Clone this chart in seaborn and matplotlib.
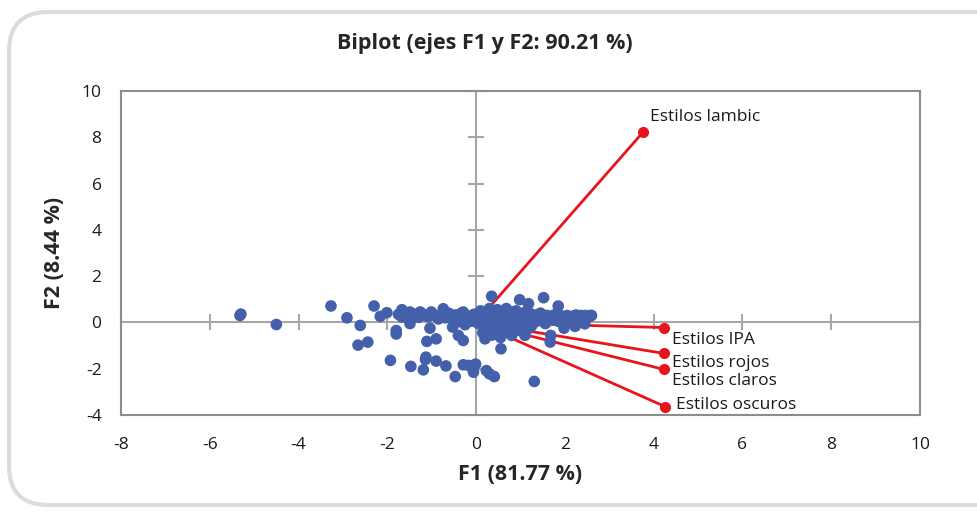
import numpy as np
import pandas as pd
import matplotlib
matplotlib.use("Agg")
import matplotlib.pyplot as plt
import seaborn as sns
from matplotlib.patches import FancyBboxPatch

obs_f1 = [-5.32, -5.30, -4.50, -3.27, -2.91, -2.61, -2.30, -2.66, -2.44, -2.16,
          -2.01, -1.93, -1.80, -1.80, -1.67, -1.67, -1.49, -1.49, -1.47, -1.26,
          -1.19, -1.13, -1.14, -1.11, -1.04, -1.01, -0.90, -0.90, -0.74, -0.68,
          -0.69, -0.53, -0.47, -0.40, -0.29, -0.29, -0.17, -0.06, -0.01, -0.06,
          -0.29, -0.14, 0.20, 0.23, 0.30, 0.41, 0.35, 0.56, 0.45, 0.80,
          0.98, 1.10, 1.18, 1.52, 1.85, 1.67, 1.68, 1.31, 2.23, 2.45,
          2.57, 1.98,
          -1.75, -1.62, -1.55, -1.45, -1.38, -1.30, -1.22, -1.15, -1.08, -0.98,
          -0.92, -0.85, -0.78, -0.70, -0.62, -0.55, -0.48, -0.40, -0.35, -0.28,
          -0.22, -0.15, -0.10, -0.05,
          0.00, 0.05, 0.08, 0.12, 0.15, 0.18, 0.20, 0.24, 0.27, 0.30,
          0.32, 0.35, 0.38, 0.40, 0.43, 0.46, 0.48, 0.50, 0.53, 0.56,
          0.58, 0.60, 0.63, 0.66, 0.68, 0.70, 0.73, 0.75, 0.78, 0.80,
          0.83, 0.86, 0.88, 0.90, 0.93, 0.96, 0.98, 1.02, 1.05, 1.08,
          1.10, 1.14, 1.18, 1.22, 1.25, 1.28, 1.32, 1.36, 1.40, 1.44,
          1.48, 1.52, 1.56, 1.60,
          1.65, 1.70, 1.75, 1.80, 1.85, 1.90, 1.95, 2.00, 2.05, 2.10,
          2.15, 2.20, 2.25, 2.30, 2.35, 2.40, 2.45, 2.50, 2.55, 2.60,
          0.15, 0.35, 0.62, 0.85, 0.55, 1.00, -0.45, -0.25, -0.15,
          0.10, 0.25, 0.45, 0.65, 0.95, 1.20, 1.45, 0.30, 0.70, 1.15]
obs_f2 = [0.30, 0.36, -0.09, 0.71, 0.20, -0.13, 0.71, -0.98, -0.85, 0.26,
          0.42, -1.64, -0.35, -0.50, 0.55, 0.23, 0.45, -0.05, -1.90, 0.45,
          -2.05, -1.50, -1.60, -0.82, -0.25, 0.45, -0.71, -1.67, 0.59, -1.88,
          0.20, -0.20, -2.34, -0.56, -0.78, -1.83, -1.86, -2.05, -1.80, -2.15,
          0.45, 0.26, -0.71, -2.08, -2.22, -2.34, 1.13, -1.14, -0.50, -0.56,
          0.98, -0.56, 0.81, 1.07, 0.71, -0.85, -0.56, -2.55, -0.17, -0.06,
          0.30, -0.25,
          0.35, 0.30, 0.40, 0.28, 0.35, 0.22, 0.38, 0.30, 0.25, 0.36,
          0.30, 0.15, 0.35, 0.28, 0.40, 0.25, 0.32, 0.20, 0.38, 0.10,
          0.30, 0.25, 0.05, 0.35,
          0.20, -0.05, 0.30, 0.10, 0.40, -0.15, 0.25, 0.05, 0.35, -0.25,
          0.15, 0.45, 0.00, 0.28, -0.35, 0.20, 0.55, 0.05, 0.32, -0.20,
          0.15, 0.40, -0.05, 0.25, 0.60, 0.10, -0.30, 0.35, 0.18, 0.45,
          -0.10, 0.28, 0.05, 0.50, 0.20, -0.20, 0.35, 0.12, 0.40, -0.05,
          0.25, 0.30, 0.10, 0.38, -0.15, 0.22, 0.32, 0.05, 0.28, 0.15,
          0.35, 0.20, -0.05, 0.30,
          0.25, 0.10, 0.32, 0.20, 0.05, 0.30, 0.22, 0.15, 0.30, 0.25,
          0.10, 0.28, 0.32, 0.20, 0.30, 0.22, 0.30, 0.28, 0.25, 0.30,
          -0.45, -0.55, -0.45, -0.40, -0.65, -0.35, 0.00, -0.10, 0.15,
          0.50, 0.00, -0.10, 0.30, 0.05, -0.25, 0.40, 0.60, 0.45, 0.50]

# variable vectors
var_names = ["Estilos lambic", "Estilos IPA", "Estilos rojos", "Estilos claros", "Estilos oscuros"]
var_f1 = [3.76, 4.23, 4.23, 4.23, 4.26]
var_f2 = [8.22, -0.22, -1.34, -2.03, -3.64]

xticks = [-8, -6, -4, -2, 0, 2, 4, 6, 8, 10]
yticks = [-4, -2, 0, 2, 4, 6, 8, 10]

obs = pd.DataFrame({"F1": obs_f1, "F2": obs_f2})

sns.set_style("white")
plt.rcParams["font.family"] = ["Open Sans", "DejaVu Sans"]
plt.rcParams["axes.unicode_minus"] = False

fig = plt.figure(figsize=(9.78, 5.15), dpi=100)
ax = fig.add_axes([121/978, 1-415/515, 799/978, 324/515])

# rounded frame around the chart
frame = FancyBboxPatch((9/978, 10/515), 1.1, 493/515, boxstyle="round,pad=0,rounding_size=0.04",
                       transform=fig.transFigure, fill=False, edgecolor="#dcdcdc", linewidth=3,
                       mutation_aspect=978/515, clip_on=False)
fig.patches.append(frame)

gray = "#a6a6a6"
ax.axhline(0, color=gray, lw=1.5, zorder=1)
ax.axvline(0, color=gray, lw=1.5, zorder=1)
ax.plot([t for t in xticks if t != 0], [0]*(len(xticks)-1), ls="none", marker="|",
        ms=11, mew=1.5, color=gray, zorder=1, clip_on=False)
ax.plot([0]*(len(yticks)-1), [t for t in yticks if t != 0], ls="none", marker="_",
        ms=11, mew=1.5, color=gray, zorder=1, clip_on=False)

red = "#e8141c"
for name, x, y in zip(var_names, var_f1, var_f2):
    ax.plot([0, x], [0, y], color=red, lw=2, zorder=2)
    ax.plot([x], [y], "o", color=red, ms=7, zorder=4)

sns.scatterplot(data=obs, x="F1", y="F2", ax=ax, color="#4560ab", s=70,
                edgecolor="none", zorder=3)

offsets = {"Estilos lambic": (5, 11), "Estilos IPA": (6, -9), "Estilos rojos": (6, -7),
           "Estilos claros": (6, -8), "Estilos oscuros": (8, 1.5)}
for name, x, y in zip(var_names, var_f1, var_f2):
    ax.annotate(name, (x, y), xytext=offsets[name], textcoords="offset points",
                fontsize=12.5, va="center", ha="left", color="#1a1a1a")

ax.set_xlim(-8, 10)
ax.set_ylim(-4, 10)
ax.set_xticks(xticks)
ax.set_yticks(yticks)
ax.tick_params(axis="both", length=0, labelsize=12.5, colors="#1a1a1a")
ax.tick_params(axis="x", pad=16)
ax.tick_params(axis="y", pad=14)
for sp in ax.spines.values():
    sp.set_color("#8c8c8c")
    sp.set_linewidth(1.5)

ax.set_xlabel("F1 (81.77 %)", fontsize=15.5, fontweight="bold", labelpad=8)
ax.set_ylabel("F2 (8.44 %)", fontsize=15.5, fontweight="bold", labelpad=12)
fig.text(485/978, 1-44/515, "Biplot (ejes F1 y F2: 90.21 %)", fontsize=15.5,
         fontweight="bold", ha="center", va="center")

fig.savefig("out.png", dpi=100)
